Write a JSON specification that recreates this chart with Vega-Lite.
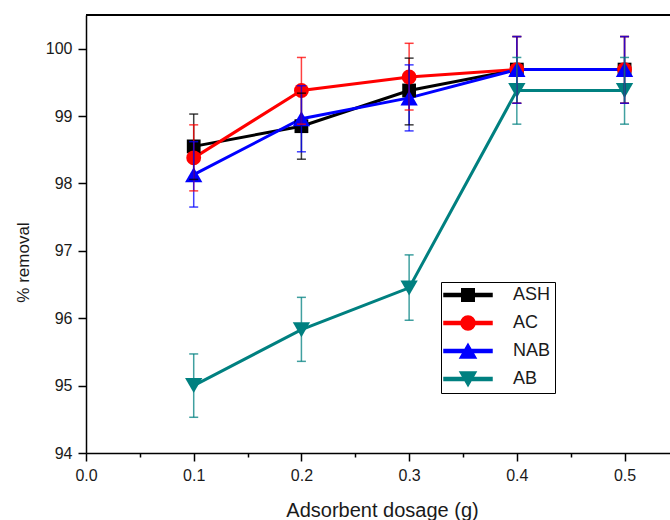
{
  "$schema": "https://vega.github.io/schema/vega-lite/v6.json",
  "width": 584,
  "height": 438,
  "autosize": {"type": "none"},
  "padding": {"left": 86, "top": 15, "right": 0, "bottom": 67},
  "background": "white",
  "config": {
    "view": {"stroke": null},
    "font": "Liberation Sans",
    "legend": {
      "orient": "none",
      "legendX": 355,
      "legendY": 267,
      "padding": 4,
      "strokeColor": "black",
      "fillColor": "white",
      "labelFont": "Liberation Sans",
      "labelFontSize": 18,
      "labelColor": "#1a1a1a",
      "symbolSize": 256,
      "symbolOffset": 14,
      "labelOffset": 36,
      "rowPadding": 8
    }
  },
  "data": {
    "values": [
      {"series": "ASH", "x": 0.1, "y": 98.55, "lo": 98.06, "hi": 99.03},
      {"series": "ASH", "x": 0.2, "y": 98.85, "lo": 98.36, "hi": 99.34},
      {"series": "ASH", "x": 0.3, "y": 99.38, "lo": 98.87, "hi": 99.86},
      {"series": "ASH", "x": 0.4, "y": 99.69, "lo": 99.19, "hi": 100.18},
      {"series": "ASH", "x": 0.5, "y": 99.69, "lo": 99.19, "hi": 100.18},
      {"series": "AC", "x": 0.1, "y": 98.38, "lo": 97.89, "hi": 98.87},
      {"series": "AC", "x": 0.2, "y": 99.38, "lo": 98.88, "hi": 99.87},
      {"series": "AC", "x": 0.3, "y": 99.58, "lo": 99.09, "hi": 100.08},
      {"series": "AC", "x": 0.4, "y": 99.69, "lo": 99.19, "hi": 100.18},
      {"series": "AC", "x": 0.5, "y": 99.69, "lo": 99.19, "hi": 100.18},
      {"series": "NAB", "x": 0.1, "y": 98.13, "lo": 97.65, "hi": 98.62},
      {"series": "NAB", "x": 0.2, "y": 98.96, "lo": 98.47, "hi": 99.45},
      {"series": "NAB", "x": 0.3, "y": 99.27, "lo": 98.78, "hi": 99.76},
      {"series": "NAB", "x": 0.4, "y": 99.69, "lo": 99.19, "hi": 100.18},
      {"series": "NAB", "x": 0.5, "y": 99.69, "lo": 99.19, "hi": 100.18},
      {"series": "AB", "x": 0.1, "y": 95.0, "lo": 94.53, "hi": 95.47},
      {"series": "AB", "x": 0.2, "y": 95.83, "lo": 95.36, "hi": 96.31},
      {"series": "AB", "x": 0.3, "y": 96.45, "lo": 95.97, "hi": 96.94},
      {"series": "AB", "x": 0.4, "y": 99.38, "lo": 98.88, "hi": 99.87},
      {"series": "AB", "x": 0.5, "y": 99.38, "lo": 98.88, "hi": 99.87}
    ]
  },
  "layer": [
    {
      "mark": {"type": "line", "strokeWidth": 3},
      "encoding": {
        "x": {
          "field": "x", "type": "quantitative", "title": "Adsorbent dosage (g)",
          "scale": {"domain": [0, 0.5422], "nice": false, "zero": false},
          "axis": {
            "grid": false,
            "domainColor": "black",
            "domainWidth": 1.5,
            "tickColor": "black",
            "tickWidth": 1.5,
            "labelFont": "Liberation Sans",
            "labelFontSize": 16,
            "labelColor": "#1a1a1a",
            "labelOverlap": false,
            "labelFlush": false,
            "titleFont": "Liberation Sans",
            "titleFontWeight": "normal",
            "titleColor": "#1a1a1a",
            "values": [0, 0.05, 0.1, 0.15, 0.2, 0.25, 0.3, 0.35, 0.4, 0.45, 0.5],
            "labelExpr": "abs(datum.value*10 - round(datum.value*10)) < 0.001 ? format(datum.value, '.1f') : ''",
            "tickSize": {"condition": {"test": "abs(datum.value*10 - round(datum.value*10)) < 0.001", "value": 8}, "value": 4},
            "labelPadding": 6,
            "titleFontSize": 20,
            "titleBaseline": "alphabetic",
            "titleAlign": "center",
            "titleX": 296,
            "titleY": 63
          }
        },
        "y": {
          "field": "y", "type": "quantitative", "title": "% removal",
          "scale": {"domain": [94, 100.5], "nice": false, "zero": false},
          "axis": {
            "grid": false,
            "domainColor": "black",
            "domainWidth": 1.5,
            "tickColor": "black",
            "tickWidth": 1.5,
            "labelFont": "Liberation Sans",
            "labelFontSize": 16,
            "labelColor": "#1a1a1a",
            "labelOverlap": false,
            "labelFlush": false,
            "titleFont": "Liberation Sans",
            "titleFontWeight": "normal",
            "titleColor": "#1a1a1a",
            "values": [94, 94.5, 95, 95.5, 96, 96.5, 97, 97.5, 98, 98.5, 99, 99.5, 100],
            "labelExpr": "datum.value % 1 === 0 ? format(datum.value, 'd') : ''",
            "tickSize": {"condition": {"test": "datum.value % 1 === 0", "value": 8}, "value": 4},
            "labelPadding": 6,
            "titleFontSize": 17,
            "titleBaseline": "alphabetic",
            "titleAlign": "center",
            "titleAngle": 270,
            "titleX": -58,
            "titleY": 247
          }
        },
        "color": {
          "field": "series", "type": "nominal",
          "scale": {"domain": ["ASH", "AC", "NAB", "AB"], "range": ["#000000", "#ff0000", "#0000ff", "#008080"]},
          "legend": {
            "title": null,
            "encode": {
              "symbols": {
                "update": {
                  "shape": {"signal": "datum.value === 'ASH' ? 'M-3,-0.19H3V0.19H-3Z M-0.78,-0.78H0.78V0.78H-0.78Z' : datum.value === 'AC' ? 'M-3,-0.19H3V0.19H-3Z M-0.875,0A0.875,0.875,0,1,1,0.875,0A0.875,0.875,0,1,1,-0.875,0Z' : datum.value === 'NAB' ? 'M-3,-0.19H3V0.19H-3Z M0,-0.875L1,0.875L-1,0.875Z' : 'M-3,-0.19H3V0.19H-3Z M0,0.875L-1,-0.875L1,-0.875Z'"},
                  "size": {"value": 256},
                  "fill": {"signal": "scale('color', datum.value)"},
                  "opacity": {"value": 1}
                }
              }
            }
          }
        }
      }
    },
    {
      "mark": {"type": "rule", "color": "black", "strokeWidth": 1.5},
      "encoding": {
        "y": {"datum": 100.5, "type": "quantitative", "title": "% removal"}
      }
    },
    {
      "transform": [{"filter": "datum.series === 'ASH'"}],
      "mark": {"type": "point", "filled": true, "opacity": 1, "shape": "square", "size": 190},
      "encoding": {
        "x": {"field": "x", "type": "quantitative", "title": "Adsorbent dosage (g)"},
        "y": {"field": "y", "type": "quantitative", "title": "% removal"},
        "color": {"field": "series", "type": "nominal"}
      }
    },
    {
      "transform": [{"filter": "datum.series === 'AC'"}],
      "mark": {"type": "point", "filled": true, "opacity": 1, "shape": "circle", "size": 220},
      "encoding": {
        "x": {"field": "x", "type": "quantitative", "title": "Adsorbent dosage (g)"},
        "y": {"field": "y", "type": "quantitative", "title": "% removal"},
        "color": {"field": "series", "type": "nominal"}
      }
    },
    {
      "transform": [{"filter": "datum.series === 'NAB'"}],
      "mark": {"type": "point", "filled": true, "opacity": 1, "shape": "triangle-up", "size": 300},
      "encoding": {
        "x": {"field": "x", "type": "quantitative", "title": "Adsorbent dosage (g)"},
        "y": {"field": "y", "type": "quantitative", "title": "% removal"},
        "color": {"field": "series", "type": "nominal"}
      }
    },
    {
      "transform": [{"filter": "datum.series === 'AB'"}],
      "mark": {"type": "point", "filled": true, "opacity": 1, "shape": "triangle-down", "size": 300},
      "encoding": {
        "x": {"field": "x", "type": "quantitative", "title": "Adsorbent dosage (g)"},
        "y": {"field": "y", "type": "quantitative", "title": "% removal"},
        "color": {"field": "series", "type": "nominal"}
      }
    },
    {
      "mark": {"type": "rule", "strokeWidth": 1.5, "opacity": 0.75},
      "encoding": {
        "x": {"field": "x", "type": "quantitative", "title": "Adsorbent dosage (g)"},
        "y": {"field": "lo", "type": "quantitative", "title": "% removal"},
        "y2": {"field": "hi"},
        "color": {"field": "series", "type": "nominal"}
      }
    },
    {
      "mark": {"type": "point", "shape": "M-1,0H1", "filled": false, "strokeWidth": 1.5, "size": 81, "opacity": 0.75},
      "encoding": {
        "x": {"field": "x", "type": "quantitative", "title": "Adsorbent dosage (g)"},
        "y": {"field": "lo", "type": "quantitative", "title": "% removal"},
        "color": {"field": "series", "type": "nominal"}
      }
    },
    {
      "mark": {"type": "point", "shape": "M-1,0H1", "filled": false, "strokeWidth": 1.5, "size": 81, "opacity": 0.75},
      "encoding": {
        "x": {"field": "x", "type": "quantitative", "title": "Adsorbent dosage (g)"},
        "y": {"field": "hi", "type": "quantitative", "title": "% removal"},
        "color": {"field": "series", "type": "nominal"}
      }
    }
  ]
}
